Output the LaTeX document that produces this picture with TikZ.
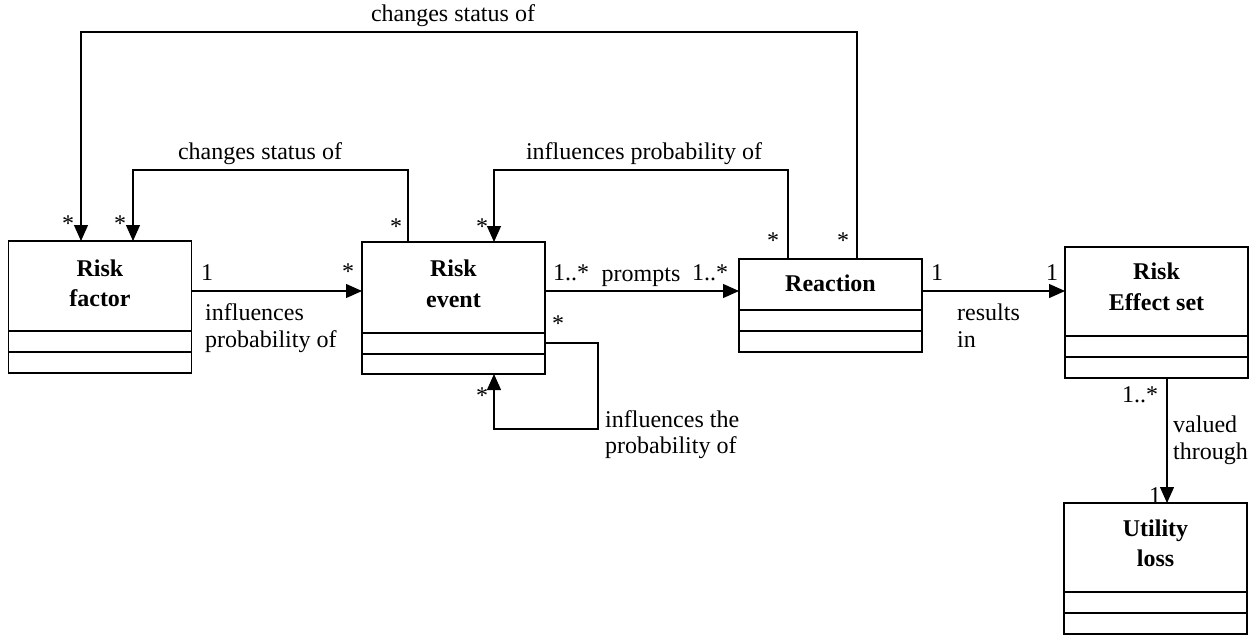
\documentclass[tikz,border=0pt]{standalone}
\usepackage{fontspec}
\setmainfont{Liberation Serif}
\usetikzlibrary{arrows.meta}
\begin{document}
\begin{tikzpicture}[x=1pt,y=-1pt,
  classbox/.style={draw, line width=1.2pt, anchor=north west, minimum width=183pt,
    inner sep=0pt, outer sep=0pt},
  part/.style={line width=1.2pt},
  title/.style={font=\fontsize{24}{30}\selectfont\bfseries, anchor=base, inner sep=0pt},
  lbl/.style={font=\fontsize{24}{27}\selectfont, anchor=base, inner sep=0pt},
  lblw/.style={lbl, anchor=base west},
  assoc/.style={line width=1.2pt, -{Triangle[length=16pt,width=14pt]}},
  link/.style={line width=1.2pt},
]
\useasboundingbox (0,0) rectangle (1257,635);

% class boxes
\node[classbox, minimum height=132pt] (rf) at (8.5,241) {};
\node[classbox, minimum height=132pt] (re) at (362,242) {};
\node[classbox, minimum height=93pt]  (rc) at (739,259) {};
\node[classbox, minimum height=131pt] (rs) at (1065,247) {};
\node[classbox, minimum height=131pt] (ul) at (1064,503) {};

% attribute and operation compartments
\foreach \b/\da/\db in {rf/90/111, re/91/112, rc/51/72, rs/89/110, ul/89/110}{
  \draw[part] ([yshift=-\da pt]\b.north west) -- ([yshift=-\da pt]\b.north east);
  \draw[part] ([yshift=-\db pt]\b.north west) -- ([yshift=-\db pt]\b.north east);
}

% class names
\node[title] (rf-t1) at ([yshift=-35pt]rf.north) {Risk};
\node[title] (rf-t2) at ([yshift=-65pt]rf.north) {factor};
\node[title] (re-t1) at ([yshift=-34pt]re.north) {Risk};
\node[title] (re-t2) at ([yshift=-65pt]re.north) {event};
\node[title] (rc-t1) at ([yshift=-32pt]rc.north) {Reaction};
\node[title] (rs-t1) at ([yshift=-32pt]rs.north) {Risk};
\node[title] (rs-t2) at ([yshift=-63pt]rs.north) {Effect set};
\node[title] (ul-t1) at ([yshift=-33pt]ul.north) {Utility};
\node[title] (ul-t2) at ([yshift=-63pt]ul.north) {loss};

% associations
\draw[assoc] ([xshift=118pt]rc.north west) -- ++(0,-227) -| ([xshift=72.5pt]rf.north west);
\draw[assoc] ([xshift=46pt]re.north west) -- ++(0,-72) -| ([xshift=124.5pt]rf.north west);
\draw[assoc] ([xshift=49pt]rc.north west) -- ++(0,-89) -| ([xshift=132pt]re.north west);
\draw[assoc] ([yshift=-50pt]rf.north east) -- ([yshift=-49pt]re.north west);
\draw[assoc] ([yshift=-49pt]re.north east) -- ([yshift=-32pt]rc.north west);
\draw[assoc] ([yshift=-32pt]rc.north east) -- ([yshift=-44pt]rs.north west);
\draw[assoc] ([xshift=102pt]rs.south west) -- ([xshift=103pt]ul.north west);
\draw[assoc] ([yshift=-101pt]re.north east) -- ++(53,0) -- ++(0,86) -| ([xshift=132pt]re.south west);

% association names
\node[lbl] (n-cs1) at (453,21) {changes status of};
\node[lbl] (n-cs2) at (260,159) {changes status of};
\node[lbl] (n-ip) at (644,159) {influences probability of};
\node[lblw] (n-ia1) at (205,320) {influences};
\node[lblw] (n-ia2) at (205,347) {probability of};
\node[lbl] (n-pr) at (641,281) {prompts};
\node[lblw] (n-it1) at (605,427) {influences the};
\node[lblw] (n-it2) at (605,453) {probability of};
\node[lblw] (n-ri1) at (957,320) {results};
\node[lblw] (n-ri2) at (957,347) {in};
\node[lblw] (n-vt1) at (1173,432) {valued};
\node[lblw] (n-vt2) at (1173,459) {through};

% multiplicities
\node[lbl] (m1) at (68,231) {*};
\node[lbl] (m2) at (120,231) {*};
\node[lbl] (m3) at (207,280) {1};
\node[lbl] (m4) at (348,279) {*};
\node[lbl] (m5) at (396,234) {*};
\node[lbl] (m6) at (482,234) {*};
\node[lbl] (m7) at (571,280) {1..*};
\node[lbl] (m8) at (710,280) {1..*};
\node[lbl] (m9) at (558,331) {*};
\node[lbl] (m10) at (482,403) {*};
\node[lbl] (m11) at (773,248) {*};
\node[lbl] (m12) at (843,248) {*};
\node[lbl] (m13) at (937,280) {1};
\node[lbl] (m14) at (1052,280) {1};
\node[lbl] (m15) at (1140,402) {1..*};
\node[lbl] (m16) at (1155,503) {1};
\end{tikzpicture}
\end{document}
